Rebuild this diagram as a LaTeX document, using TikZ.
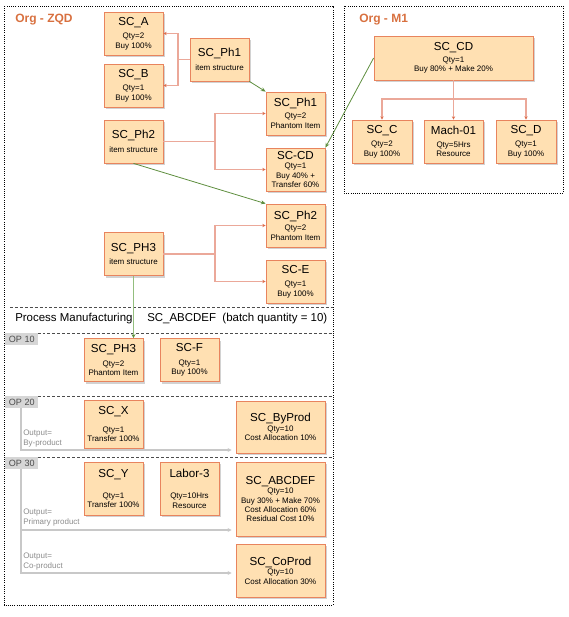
\documentclass[tikz,border=0pt]{standalone}
\usepackage{fontspec}
\setmainfont{Liberation Sans}
\usetikzlibrary{calc}
\usetikzlibrary{shadows}
\usetikzlibrary{arrows.meta}
\definecolor{boxfill}{HTML}{FFE0B2}
\definecolor{boxline}{HTML}{E8845E}
\definecolor{forkline}{HTML}{EBA899}
\definecolor{forktip}{HTML}{DD6F4E}
\definecolor{linkgreen}{HTML}{5E8E3E}
\definecolor{palegreen}{HTML}{93BE7E}
\definecolor{orgtext}{HTML}{D8703F}
\definecolor{outgray}{HTML}{C8C8C8}
\definecolor{opfill}{HTML}{D6D6D6}
\newcommand{\ttl}[1]{{\fontsize{8.7}{9.5}\selectfont #1}}

\begin{document}
\begin{tikzpicture}[x=0.75pt,y=-0.75pt,
  item/.style={draw=boxline,fill=boxfill,line width=0.6pt,align=center,inner sep=1pt,
    font=\fontsize{6}{7}\selectfont,minimum width=44.25pt,minimum height=32.25pt,
    drop shadow={shadow xshift=1.2pt,shadow yshift=-1.5pt,opacity=0.25,fill=black!70}},
  wideitem/.style={item,minimum width=66.75pt},
  stem/.style={draw=forkline,line width=1.2pt},
  fork/.style={stem,-{Stealth[length=2.5pt,width=2.5pt,color=forktip]}},
  link/.style={draw=linkgreen,line width=0.6pt,-{Stealth[length=3.5pt,width=3pt]}},
  output/.style={draw=outgray,line width=0.8pt,-{Stealth[length=3pt,width=3pt]}},
  orgbox/.style={line width=0.6pt,dash pattern=on 0.75pt off 0.9pt},
  opline/.style={black!70,line width=0.5pt,dash pattern=on 2.2pt off 1.5pt},
  orglabel/.style={text=orgtext,font=\bfseries\fontsize{9}{10}\selectfont,anchor=west,inner sep=0pt},
  oplabel/.style={fill=opfill,text=black!70,font=\fontsize{6.8}{7}\selectfont,anchor=north west,
    inner sep=0pt,minimum width=24.75pt,minimum height=9pt},
  outtext/.style={text=black!45,font=\fontsize{6}{7.5}\selectfont,align=left,anchor=west,inner sep=0pt}]
  \useasboundingbox (0,0) rectangle (568,617);

  \draw[orgbox] (4,6) rectangle (333,605);
  \draw[orgbox] (344,6) rectangle (563,193);
  \node[orglabel] (zqd) at (15,20) {Org - ZQD};
  \node[orglabel] (m1) at (359,20) {Org - M1};

  \node[item] (sca) at (133.5,33.5) {\ttl{SC\_A}\\[3pt]Qty=2\\Buy 100\%};
  \node[item] (scb) at (133.5,85.5) {\ttl{SC\_B}\\[3pt]Qty=1\\Buy 100\%};
  \node[item] (ph1i) at (219.5,59.5) {\ttl{SC\_Ph1}\\[3pt]item structure};
  \node[item] (ph1p) at (295.5,113.5) {\ttl{SC\_Ph1}\\[2pt]Qty=2\\Phantom Item};
  \node[item] (ph2i) at (133.5,141.5) {\ttl{SC\_Ph2}\\[3pt]item structure};
  \node[item] (sccd) at (295.5,169.5) {\ttl{SC-CD}\\Qty=1\\Buy 40\% +\\Transfer 60\%};
  \node[item] (ph2p) at (295.5,225.5) {\ttl{SC\_Ph2}\\[2pt]Qty=2\\Phantom Item};
  \node[item] (ph3i) at (133.5,254) {\ttl{SC\_PH3}\\[3pt]item structure};
  \node[item] (sce) at (295.5,281.5) {\ttl{SC-E}\\[3pt]Qty=1\\Buy 100\%};

  \node[item,minimum width=119.25pt,minimum height=33pt] (cd) at (453.5,58) {\ttl{SC\_CD}\\[2pt]Qty=1\\Buy 80\% + Make 20\%};
  \node[item,minimum width=45pt] (scc) at (382,141.5) {\ttl{SC\_C}\\[3pt]Qty=2\\Buy 100\%};
  \node[item] (mach) at (453.5,141.5) {\ttl{Mach-01}\\[3pt]Qty=5Hrs\\Resource};
  \node[item,minimum width=45pt] (scd) at (526,141.5) {\ttl{SC\_D}\\[3pt]Qty=1\\Buy 100\%};

  \coordinate (f1) at (178,59.5);
  \draw[stem] (ph1i.west) -- (f1);
  \draw[fork] (f1) |- (sca.east);
  \draw[fork] (f1) |- (scb.east);
  \coordinate (f2) at (215,141.5);
  \draw[stem] (ph2i.east) -- (f2);
  \draw[fork] (f2) |- (ph1p.west);
  \draw[fork] (f2) |- (sccd.west);
  \coordinate (f3) at (215,254);
  \draw[stem] (ph3i.east) -- (f3);
  \draw[fork] (f3) |- (ph2p.west);
  \draw[fork] (f3) |- (sce.west);
  \coordinate (f4) at (453.5,99);
  \draw[stem] (cd.south) -- (f4);
  \draw[fork] (f4) -| (scc.north);
  \draw[fork] (f4) -- (mach.north);
  \draw[fork] (f4) -| (scd.north);

  \draw[link] (ph1i.south east) -- (ph1p.north west);
  \draw[link] (cd.west) -- (sccd.north east);
  \draw[link] (ph2i.south) -- (ph2p.north west);

  \draw[opline] (10,307) -- (333,307);
  \node[anchor=west,font=\fontsize{8.6}{9}\selectfont,inner sep=0pt] (pm) at (15,319) {Process Manufacturing};
  \node[anchor=west,font=\fontsize{8.6}{9}\selectfont,inner sep=0pt] (batch) at (147,319) {SC\_ABCDEF\ \ (batch quantity = 10)};

  \draw[opline] (8,333) -- (333,333);
  \node[oplabel] (op10) at (5,333) {OP 10};
  \node[item] (ph3p) at (113.5,360) {\ttl{SC\_PH3}\\[3pt]Qty=2\\Phantom Item};
  \node[item] (scf) at (189.5,360) {\ttl{SC-F}\\[3pt]Qty=1\\Buy 100\%};
  \draw[draw=palegreen,line width=1.4pt,-{Stealth[length=3pt,width=3pt,color=linkgreen]}] (ph3i.south) -- (ph3i.south |- ph3p.north);

  \draw[opline] (8,396) -- (333,396);
  \node[oplabel] (op20) at (5,396) {OP 20};
  \node[item,minimum height=36pt] (scx) at (113.5,424) {\ttl{SC\_X}\\[6pt]Qty=1\\Transfer 100\%};
  \node[wideitem,minimum height=39pt] (bp) at (280.5,427) {\ttl{SC\_ByProd}\\Qty=10\\Cost Allocation 10\%};
  \coordinate (o20) at (21,408);
  \coordinate (b20) at (21,450);
  \draw[output] (o20) -- (b20) -- ([xshift=-3pt]b20 -| bp.west);
  \node[outtext] (t20) at (23,438.5) {Output=\\By-product};

  \draw[opline] (8,457) -- (333,457);
  \node[oplabel] (op30) at (5,457) {OP 30};
  \node[item,minimum height=39.75pt] (scy) at (113.5,488.5) {\ttl{SC\_Y}\\[9pt]Qty=1\\Transfer 100\%};
  \node[item,minimum height=39.75pt] (lab) at (189.5,488.5) {\ttl{Labor-3}\\[9pt]Qty=10Hrs\\Resource};
  \node[wideitem,minimum height=55.5pt] (ab) at (280.5,499) {\ttl{SC\_ABCDEF}\\Qty=10\\Buy 30\% + Make 70\%\\Cost Allocation 60\%\\Residual Cost 10\%};
  \node[wideitem,minimum height=39.75pt] (cp) at (280.5,570.5) {\ttl{SC\_CoProd}\\Qty=10\\Cost Allocation 30\%};
  \coordinate (o30) at (21,469);
  \coordinate (b30) at (21,530);
  \coordinate (c30) at (21,573);
  \draw[output] (o30) -- (c30) -- ([xshift=-3pt]c30 -| cp.west);
  \draw[output] (b30) -- ([xshift=-3pt]b30 -| ab.west);
  \node[outtext] (t30) at (23,518) {Output=\\Primary product};
  \node[outtext] (t31) at (23,561.5) {Output=\\Co-product};
\end{tikzpicture}
\end{document}
